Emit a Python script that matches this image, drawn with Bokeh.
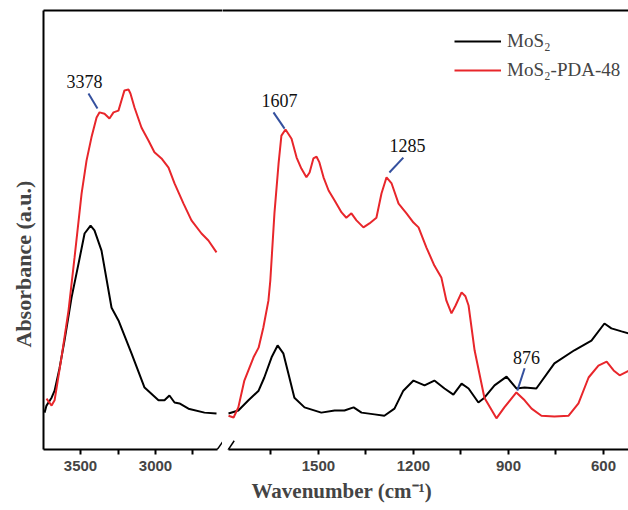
from bokeh.plotting import figure
from bokeh.models import Range1d, LinearAxis, FixedTicker, Legend, LegendItem, Title, Arrow
from bokeh.layouts import row
from bokeh.embed import file_html
from bokeh.resources import INLINE
from bokeh.core.properties import value

# ---------------- data (wavenumber cm-1, absorbance a.u.) ----------------
# high-wavenumber segment
mos2_hi_x = [3740, 3727, 3693, 3673, 3640, 3607, 3560, 3513, 3473, 3433, 3407, 3360, 3293, 3247,
             3160, 3073, 2980, 2940, 2907, 2873, 2840, 2780, 2673, 2593]
mos2_hi_y = [8.4, 10.0, 11.8, 13.4, 18.5, 24.8, 34.6, 42.4, 49.2, 51.0, 49.9, 45.3, 32.3, 29.4,
             21.9, 14.1, 11.2, 11.2, 12.3, 10.7, 10.5, 9.3, 8.4, 8.2]
pda_hi_x = [3727, 3693, 3673, 3627, 3580, 3540, 3493, 3460, 3427, 3393, 3373, 3340, 3307,
            3280, 3247, 3227, 3207, 3180, 3167, 3140, 3093, 3047, 3007, 2960, 2913, 2873,
            2813, 2760, 2693, 2647, 2593]
pda_hi_y = [11.6, 10.0, 11.2, 21.0, 31.7, 43.7, 58.3, 65.8, 71.1, 75.6, 76.8, 76.5, 75.4,
            76.8, 77.2, 79.5, 81.8, 82.0, 81.1, 77.9, 73.3, 70.4, 67.7, 66.3, 64.2, 60.6,
            56.0, 52.2, 49.2, 47.6, 44.9]
# low-wavenumber segment
mos2_lo_x = [1784, 1753, 1721, 1689, 1671, 1648, 1629, 1611, 1595, 1576, 1544, 1491, 1449,
             1418, 1389, 1364, 1323, 1292, 1260, 1232, 1200, 1165, 1134, 1102, 1074, 1048,
             1026, 995, 976, 944, 906, 875, 849, 812, 755, 692, 638, 597, 575, 543, 518]
mos2_lo_y = [8.2, 8.9, 11.2, 13.4, 16.4, 21.0, 23.7, 21.9, 17.3, 11.8, 9.6, 8.4, 8.9,
             8.9, 9.6, 8.4, 8.0, 7.7, 9.3, 13.4, 15.7, 14.6, 15.7, 13.9, 12.5, 15.0,
             13.9, 10.7, 11.8, 14.6, 16.6, 13.9, 14.1, 13.9, 19.6, 22.6, 24.8, 28.7, 27.6, 26.9, 26.4]
pda_lo_x = [1784, 1768, 1753, 1734, 1705, 1689, 1674, 1658, 1652, 1639, 1626, 1617, 1604,
            1585, 1569, 1554, 1538, 1528, 1516, 1506, 1497, 1484, 1468, 1449, 1427, 1412,
            1396, 1380, 1358, 1339, 1317, 1301, 1285, 1269, 1247, 1222, 1200, 1184, 1159,
            1134, 1112, 1096, 1080, 1067, 1048, 1036, 1026, 1007, 976, 938, 913, 875, 849,
            827, 796, 755, 710, 679, 647, 616, 590, 568, 549, 518]
pda_lo_y = [7.7, 7.3, 9.6, 15.7, 21.0, 23.2, 27.8, 33.9, 38.5, 53.8, 65.1, 71.5, 72.9,
            70.8, 66.5, 64.0, 62.0, 63.1, 66.3, 66.7, 65.4, 62.0, 59.0, 56.7, 54.0, 52.8,
            53.8, 52.2, 50.6, 51.5, 52.8, 58.3, 62.0, 60.6, 56.0, 53.8, 51.7, 50.6, 46.0,
            41.9, 39.2, 33.9, 31.0, 32.8, 35.8, 34.9, 32.8, 22.6, 11.8, 7.1, 9.6, 13.0, 11.2,
            9.3, 7.7, 7.5, 7.7, 10.5, 16.4, 19.1, 20.0, 18.0, 16.9, 18.0]

# peak annotations: label text, label position, leader line
hi_peak_text = ["3378"]
hi_peak_tx, hi_peak_ty = [3473], [83.8]
hi_lead_x0, hi_lead_y0, hi_lead_x1, hi_lead_y1 = [3447], [81.1], [3387], [77.7]
lo_peak_text = ["1607", "1285", "876"]
lo_peak_tx, lo_peak_ty = [1623, 1219, 843], [79.5, 69.2, 21.0]
lo_lead_x0, lo_lead_y0 = [1642, 1232, 849], [76.8, 66.5, 18.5]
lo_lead_x1, lo_lead_y1 = [1607, 1276, 872], [73.1, 63.1, 13.4]

hi_ticks, hi_minor = [3500, 3000], [3250, 2750]
lo_ticks, lo_minor = [1500, 1200, 900, 600], [1650, 1350, 1050, 750]

HI_RANGE, LO_RANGE = (3747, 2553), (1803, 521)
HI_BOUNDS, LO_BOUNDS = (2587, 3747), (521, 1784)

series_names = ["MoS\u2082", "MoS\u2082-PDA-48"]
BLACK, RED, BLUE = "#000000", "#e8262b", "#34509e"
SERIF, SANS = "Liberation Serif", "Liberation Sans"
FRAME_H = 439


def make_fig(frame_w, xr, border_left):
    p = figure(frame_width=frame_w, frame_height=FRAME_H, x_range=Range1d(*xr),
               y_range=Range1d(0, 100), output_backend="svg", toolbar_location=None,
               x_axis_location=None, y_axis_location=None,
               min_border_top=10, min_border_bottom=58,
               min_border_left=border_left, min_border_right=0)
    p.outline_line_color = None
    p.grid.visible = False
    top = LinearAxis(ticker=FixedTicker(ticks=[]), axis_line_width=2,
                     major_tick_out=0, major_tick_in=0, minor_tick_out=0, minor_tick_in=0,
                     major_label_standoff=0, major_label_text_font_size="0px")
    p.add_layout(top, "above")
    return p


def bottom_axis(p, ticks, minor, bounds):
    ax = LinearAxis(ticker=FixedTicker(ticks=ticks, minor_ticks=minor), bounds=bounds,
                    axis_line_width=2, major_tick_line_width=2, minor_tick_line_width=2,
                    major_tick_in=0, major_tick_out=5, minor_tick_in=0, minor_tick_out=5,
                    major_label_text_font=SANS, major_label_text_font_style="bold",
                    major_label_text_font_size="15px", major_label_standoff=6)
    p.add_layout(ax, "below")


# ---------------- left (high wavenumber) panel ----------------
pl = make_fig(179, HI_RANGE, 42)
bottom_axis(pl, hi_ticks, hi_minor, HI_BOUNDS)
yax = LinearAxis(ticker=FixedTicker(ticks=[]), axis_line_width=2,
                 major_tick_out=0, major_tick_in=0, minor_tick_out=0, minor_tick_in=0,
                 major_label_standoff=0, major_label_text_font_size="0px")
pl.add_layout(yax, "left")
pl.add_layout(Title(text="Absorbance (a.u.)", align="left", offset=102, standoff=16,
                    text_font=SERIF, text_font_style="bold", text_font_size="22px"), "left")
pl.line(mos2_hi_x, mos2_hi_y, line_color=BLACK, line_width=2)
pl.line(pda_hi_x, pda_hi_y, line_color=RED, line_width=2)
pl.segment(hi_lead_x0, hi_lead_y0, hi_lead_x1, hi_lead_y1, line_color=BLUE, line_width=2)
pl.text(hi_peak_tx, hi_peak_ty, text=hi_peak_text, text_font=value(SERIF),
        text_font_size="18px", text_align="center", text_baseline="middle", text_color="#111111")
bx = HI_BOUNDS[0]
pl.add_layout(Arrow(end=None, x_start=bx + 40, y_start=-1.9, x_end=bx - 40, y_end=2.0,
                    line_color=BLACK, line_width=1.5))

# ---------------- right (low wavenumber) panel ----------------
pr = make_fig(406, LO_RANGE, 0)
bottom_axis(pr, lo_ticks, lo_minor, LO_BOUNDS)
pr.add_layout(Title(text="Wavenumber (cm\u207b\u00b9)", align="left", offset=29, standoff=7,
                    text_font=SERIF, text_font_style="bold", text_font_size="21px"), "below")
r1 = pr.line(mos2_lo_x, mos2_lo_y, line_color=BLACK, line_width=2)
r2 = pr.line(pda_lo_x, pda_lo_y, line_color=RED, line_width=2)
pr.segment(lo_lead_x0, lo_lead_y0, lo_lead_x1, lo_lead_y1, line_color=BLUE, line_width=2)
pr.text(lo_peak_tx, lo_peak_ty, text=lo_peak_text, text_font=value(SERIF),
        text_font_size="18px", text_align="center", text_baseline="middle", text_color="#111111")
bx2 = LO_BOUNDS[1]
pr.add_layout(Arrow(end=None, x_start=bx2 + 18, y_start=-1.9, x_end=bx2 - 18, y_end=2.0,
                    line_color=BLACK, line_width=1.5))

legend = Legend(items=[LegendItem(label=series_names[0], renderers=[r1]),
                       LegendItem(label=series_names[1], renderers=[r2])],
                location=(232, 368), orientation="vertical",
                glyph_width=47, glyph_height=22, label_height=22, spacing=7,
                label_standoff=6, padding=0, margin=0,
                border_line_color=None, background_fill_alpha=0,
                label_text_font=SERIF, label_text_font_size="19px")
pr.add_layout(legend)

layout = row(pl, pr, spacing=0)
open("out.html", "w").write(file_html(layout, INLINE))
